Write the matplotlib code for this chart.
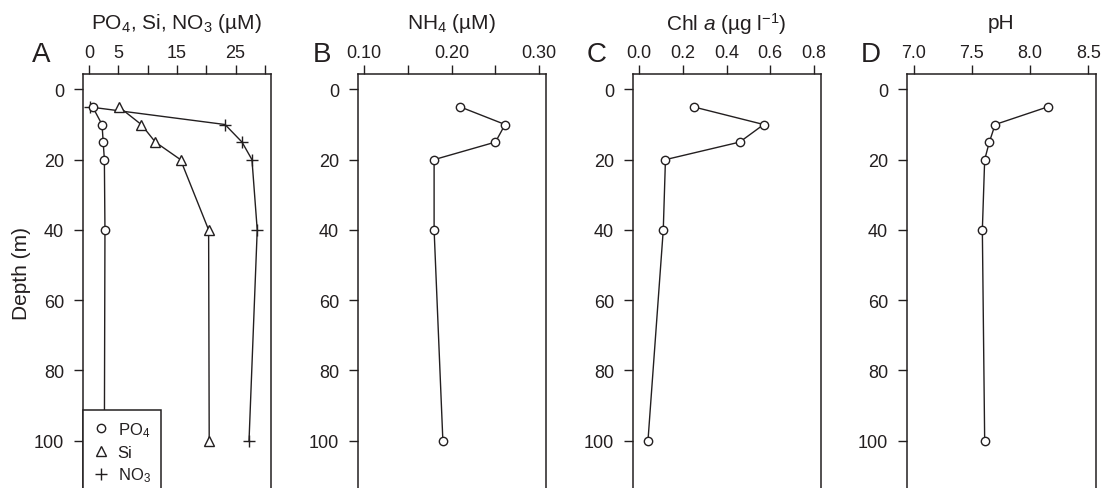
import matplotlib
matplotlib.use("Agg")
import matplotlib.pyplot as plt
from matplotlib.lines import Line2D

plt.rcParams['font.family'] = ['Liberation Sans', 'DejaVu Sans']
plt.rcParams['mathtext.fontset'] = 'custom'
plt.rcParams['mathtext.rm'] = 'Liberation Sans'
plt.rcParams['mathtext.it'] = 'Liberation Sans:italic'
plt.rcParams['mathtext.default'] = 'regular'

# datos
depth = [5, 10, 15, 20, 40, 100]
po4 = [0.6, 2.2, 2.4, 2.6, 2.7, 2.6]
si = [5.1, 8.9, 11.3, 15.6, 20.4, 20.5]
no3 = [0.1, 23.2, 26.1, 27.8, 28.7, 27.3]
nh4 = [0.21, 0.261, 0.25, 0.18, 0.18, 0.19]
chla = [0.25, 0.57, 0.46, 0.12, 0.11, 0.04]
ph = [8.15, 7.70, 7.65, 7.61, 7.59, 7.61]

titulos = ['PO$_4$, Si, NO$_3$ (µM)', 'NH$_4$ (µM)',
           'Chl $\\mathit{a}$ (µg l$^{-1}$)', 'pH']
letras = ['A', 'B', 'C', 'D']
xticks = [[0, 5, 10, 15, 20, 25, 30], [0.10, 0.15, 0.20, 0.25, 0.30],
          [0.0, 0.2, 0.4, 0.6, 0.8], [7.0, 7.5, 8.0, 8.5]]
xlabels = [['0', '5', '', '15', '', '25', ''], ['0.10', '', '0.20', '', '0.30'],
           ['0.0', '0.2', '0.4', '0.6', '0.8'], ['7.0', '7.5', '8.0', '8.5']]
xlims = [(-1.1, 31.0), (0.0928, 0.3077), (-0.030, 0.831), (6.94, 8.564)]
yticks = [0, 20, 40, 60, 80, 100]

col = '#231f20'
fig = plt.figure(figsize=(11.09, 4.89), dpi=100)
W, H = 1109, 489
izq = [82.7, 357.7, 632.7, 906.7]
anchos = [188, 188.3, 188, 189]
arriba = 75.3
letra_x = [-0.22, -0.19, -0.19, -0.19]

ejes = []
for i in range(4):
    ax = fig.add_axes([izq[i] / W, 0, anchos[i] / W, (H - arriba) / H])
    ax.set_ylim(113.5, -4.3)
    ax.set_xlim(*xlims[i])
    ax.xaxis.tick_top()
    ax.set_xticks(xticks[i])
    ax.set_xticklabels(xlabels[i])
    ax.set_yticks(yticks)
    ax.tick_params(axis='x', direction='out', length=6.3, width=1, pad=3.5,
                   labelsize=13, colors=col)
    ax.tick_params(axis='y', direction='out', length=6.3, width=1, pad=7,
                   labelsize=13, colors=col)
    for s in ax.spines.values():
        s.set_color(col)
        s.set_linewidth(1.1)
    ax.spines['bottom'].set_visible(False)
    ax.text(0.5, 1.125, titulos[i], transform=ax.transAxes, ha='center',
            va='center', fontsize=15, color=col)
    ax.text(letra_x[i], 1.05, letras[i], transform=ax.transAxes, ha='center',
            va='center', fontsize=20, color=col)
    ejes.append(ax)

estilo = dict(color=col, lw=1, mfc='white', mec=col, mew=1)
ax = ejes[0]
ax.plot(no3, depth, marker='+', ms=9, **estilo)
ax.plot(si, depth, marker='^', ms=7, **estilo)
ax.plot(po4, depth, marker='o', ms=6, **estilo)
ax.text(-0.325, 0.52, 'Depth (m)', transform=ax.transAxes, rotation=90,
        ha='center', va='center', fontsize=15, color=col)

handles = [Line2D([], [], ls='none', marker='o', ms=6, mfc='white', mec=col, mew=1),
           Line2D([], [], ls='none', marker='^', ms=7, mfc='white', mec=col, mew=1),
           Line2D([], [], ls='none', marker='+', ms=9, mec=col, mew=1)]
leg = ax.legend(handles, ['PO$_4$', 'Si', 'NO$_3$'], loc='lower left',
                bbox_to_anchor=(0, -0.015), borderaxespad=0, fontsize=12,
                handlelength=1.0, handletextpad=0.5, labelspacing=0.35,
                borderpad=0.6, fancybox=False, framealpha=1)
leg.get_frame().set_edgecolor(col)
leg.get_frame().set_linewidth(1.1)
for t in leg.get_texts():
    t.set_color(col)

ejes[1].plot(nh4, depth, marker='o', ms=6, **estilo)
ejes[2].plot(chla, depth, marker='o', ms=6, **estilo)
ejes[3].plot(ph, depth, marker='o', ms=6, **estilo)

fig.savefig('out.png', dpi=100)
